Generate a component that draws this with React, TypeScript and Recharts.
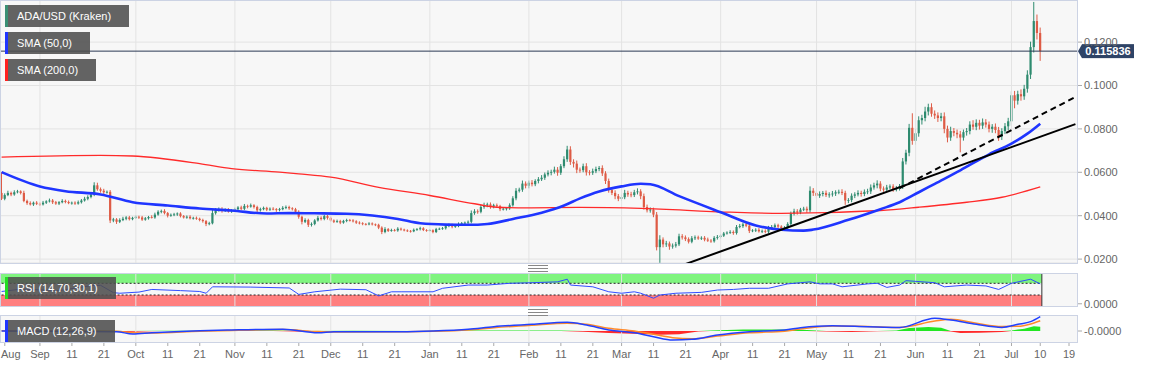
import React from 'react'
import {
  ComposedChart, Bar, Line, Area, XAxis, YAxis, CartesianGrid, ReferenceLine, ReferenceArea,
} from 'recharts'

// ADA/USD daily, 2019-08-20 .. 2020-07-10, prices in 1e-4 USD
const START = Date.UTC(2019, 7, 20)
const FIRST_OPEN = 505
const LAST_PRICE = 0.115836

const closeAug = [478, 495, 505, 498, 508, 512, 505, 468, 458, 452, 460, 455]
const closeSep = [452, 460, 466, 470, 462, 456, 462, 468, 463, 458, 460, 456, 462, 470, 478, 486, 498, 540, 522, 515, 508, 510, 378, 383, 372, 380, 386, 392, 384, 390]
const closeOct = [395, 392, 382, 388, 394, 392, 405, 418, 422, 412, 400, 404, 406, 410, 398, 392, 395, 388, 390, 386, 380, 375, 362, 365, 412, 425, 430, 422, 428, 420, 425]
const closeNov = [430, 438, 432, 445, 442, 448, 440, 425, 430, 436, 428, 432, 430, 426, 430, 436, 440, 434, 430, 418, 395, 372, 380, 358, 362, 378, 390, 385, 398, 390]
const closeDec = [378, 372, 375, 368, 376, 380, 378, 374, 368, 365, 362, 360, 364, 360, 358, 345, 325, 338, 330, 334, 332, 340, 336, 332, 330, 328, 335, 338, 342, 334, 332]
const closeJan = [333, 325, 338, 340, 342, 352, 358, 350, 352, 362, 365, 368, 372, 412, 420, 418, 440, 448, 452, 442, 448, 444, 430, 432, 434, 448, 480, 515, 520, 548, 538]
const closeFeb = [552, 545, 560, 568, 575, 590, 598, 602, 612, 598, 628, 660, 705, 648, 640, 612, 610, 628, 600, 598, 605, 615, 620, 595, 560, 518, 505, 490, 478]
const closeMar = [485, 505, 498, 495, 508, 512, 490, 440, 425, 428, 405, 255, 290, 268, 272, 258, 262, 268, 305, 300, 292, 280, 296, 300, 295, 298, 290, 285, 282, 298, 302]
const closeApr = [308, 318, 322, 325, 320, 348, 352, 360, 354, 330, 332, 335, 328, 330, 326, 345, 348, 356, 350, 340, 345, 362, 410, 420, 415, 428, 432, 425, 515, 505]
const closeMay = [492, 500, 505, 495, 498, 502, 508, 510, 505, 470, 472, 492, 498, 505, 500, 510, 512, 530, 540, 548, 525, 520, 530, 535, 522, 525, 535, 650, 690, 805, 745]
const closeJun = [780, 840, 850, 880, 900, 870, 862, 850, 858, 800, 760, 790, 782, 775, 760, 785, 790, 820, 810, 828, 815, 830, 820, 800, 810, 795, 765, 790, 812, 835]
const closeJul = [955, 930, 960, 950, 985, 1050, 1177, 1297, 1242, 1158.36]

// wick length above / below the body
const upAug = [95, 8, 10, 6, 9, 7, 5, 10, 6, 8, 5, 7]
const upSep = [6, 8, 5, 9, 7, 6, 5, 8, 6, 7, 5, 6, 8, 7, 9, 8, 10, 14, 12, 8, 9, 6, 8, 7, 6, 8, 9, 6, 7, 5]
const upOct = [6, 5, 7, 6, 5, 8, 9, 7, 6, 8, 5, 6, 7, 5, 6, 5, 6, 7, 5, 6, 5, 6, 5, 7, 15, 10, 8, 9, 6, 7, 5]
const upNov = [7, 6, 8, 9, 6, 8, 5, 6, 7, 6, 5, 6, 7, 5, 6, 8, 7, 6, 5, 6, 7, 5, 8, 6, 7, 6, 9, 7, 6, 5]
const upDec = [6, 5, 7, 6, 5, 6, 5, 6, 5, 6, 5, 4, 6, 5, 4, 5, 6, 9, 5, 6, 5, 7, 5, 4, 5, 4, 6, 5, 7, 5, 4]
const upJan = [5, 4, 6, 5, 6, 7, 6, 5, 6, 7, 6, 5, 6, 12, 10, 9, 10, 12, 8, 9, 7, 8, 6, 7, 6, 9, 10, 12, 9, 14, 10]
const upFeb = [10, 12, 8, 10, 12, 9, 11, 10, 14, 12, 10, 14, 17, 15, 12, 14, 10, 12, 14, 10, 12, 11, 9, 12, 10, 11, 9, 12, 10]
const upMar = [12, 14, 10, 12, 11, 14, 10, 12, 11, 10, 9, 12, 20, 10, 12, 9, 10, 11, 12, 10, 9, 8, 10, 9, 8, 7, 8, 9, 7, 8, 9]
const upApr = [6, 7, 6, 8, 7, 9, 10, 8, 9, 7, 6, 7, 8, 6, 7, 8, 9, 8, 7, 6, 7, 8, 9, 12, 10, 8, 9, 10, 20, 12]
const upMay = [10, 12, 9, 11, 10, 12, 9, 10, 12, 10, 9, 11, 10, 12, 10, 11, 12, 14, 12, 15, 11, 10, 12, 9, 10, 12, 11, 16, 14, 18, 67]
const upJun = [20, 18, 15, 22, 16, 18, 15, 14, 16, 18, 15, 20, 14, 15, 16, 12, 14, 15, 20, 16, 14, 18, 15, 14, 12, 15, 14, 13, 15, 16]
const upJul = [18, 20, 16, 22, 18, 20, 25, 88, 30, 25]

const dnAug = [6, 7, 5, 8, 6, 5, 7, 6, 8, 5, 7, 6]
const dnSep = [7, 5, 6, 5, 8, 6, 7, 5, 6, 5, 7, 6, 5, 6, 5, 7, 6, 8, 7, 9, 8, 6, 12, 8, 10, 6, 5, 7, 6, 5]
const dnOct = [5, 7, 6, 5, 6, 5, 6, 5, 7, 6, 8, 5, 6, 7, 6, 5, 6, 5, 6, 5, 6, 7, 10, 6, 5, 7, 6, 8, 5, 6, 7]
const dnNov = [6, 5, 7, 6, 8, 5, 7, 9, 6, 5, 7, 6, 5, 8, 6, 5, 6, 7, 6, 8, 9, 12, 6, 10, 8, 6, 5, 7, 6, 8]
const dnDec = [5, 6, 5, 7, 5, 6, 5, 5, 6, 5, 6, 5, 4, 5, 6, 7, 10, 6, 5, 4, 5, 6, 5, 4, 5, 6, 4, 5, 6, 5, 6]
const dnJan = [4, 6, 5, 4, 5, 6, 5, 8, 6, 5, 6, 5, 6, 7, 8, 9, 7, 8, 9, 10, 8, 7, 9, 6, 8, 7, 6, 9, 8, 10, 12]
const dnFeb = [12, 10, 9, 11, 8, 10, 9, 12, 8, 14, 10, 9, 12, 14, 18, 16, 12, 10, 15, 12, 10, 9, 10, 12, 14, 12, 10, 14, 11]
const dnMar = [10, 9, 11, 10, 9, 10, 14, 12, 10, 11, 12, 15, 72, 14, 12, 15, 10, 9, 8, 10, 9, 8, 7, 8, 6, 7, 8, 6, 7, 6, 8]
const dnApr = [7, 6, 5, 6, 8, 7, 6, 8, 7, 10, 6, 7, 6, 8, 7, 6, 7, 6, 8, 9, 7, 6, 8, 9, 10, 8, 7, 12, 10, 14]
const dnMay = [12, 10, 11, 9, 12, 10, 11, 9, 10, 20, 12, 10, 11, 9, 12, 10, 11, 12, 10, 14, 12, 10, 11, 9, 12, 10, 9, 12, 14, 16, 18]
const dnJun = [18, 16, 20, 15, 18, 14, 16, 18, 15, 20, 22, 15, 16, 18, 68, 14, 16, 15, 14, 16, 18, 15, 14, 16, 18, 15, 20, 16, 14, 18]
const dnJul = [20, 35, 18, 20, 16, 18, 20, 25, 30, 45]

// [day index, value]
const sma50Pts = [[0, 601], [12, 535], [20, 513], [31, 498], [41, 462], [52, 447], [62, 433], [72, 424], [83, 410], [90, 412], [98, 411], [108, 409], [116, 401], [124, 385], [131, 365], [139, 359], [146, 358], [152, 362], [160, 385], [169, 414], [176, 447], [181, 480], [187, 512], [194, 535], [200, 547], [203, 545], [212, 490], [225, 416], [236, 355], [244, 335], [251, 331], [254, 336], [265, 381], [275, 430], [281, 462], [287, 508], [292, 547], [300, 609], [309, 683], [316, 732], [321, 778], [325, 824]]
const sma200Pts = [[0, 670], [31, 678], [41, 675], [62, 640], [72, 617], [87, 601], [93, 593], [103, 578], [118, 531], [134, 493], [148, 455], [155, 439], [165, 436], [181, 438], [200, 434], [228, 416], [244, 411], [275, 424], [287, 439], [302, 462], [313, 485], [325, 533]]
const rsiPts = [[0, 42], [6, 50], [18, 45], [28, 62], [31, 63], [35, 38], [37, 36], [43, 40], [47, 49], [56, 45], [62, 42], [64, 36], [66, 58], [78, 57], [90, 54], [93, 32], [98, 41], [106, 50], [114, 48], [118, 27], [122, 41], [125, 41], [135, 41], [138, 53], [146, 64], [152, 64], [159, 70], [166, 72], [174, 75], [177, 84], [178, 64], [185, 58], [190, 41], [194, 36], [198, 41], [200, 36], [204, 19], [206, 30], [211, 36], [219, 39], [224, 47], [229, 49], [234, 53], [240, 53], [246, 68], [250, 72], [253, 75], [256, 68], [260, 68], [263, 58], [271, 68], [274, 70], [277, 56], [281, 64], [283, 79], [292, 72], [295, 58], [302, 64], [308, 61], [312, 49], [316, 70], [322, 84], [325, 68]]
// [day index, macd, signal] in 1e-4
const macdPts = [[0, 0, 0.3], [36, -0.6, -0.2], [41, -2.6, -1.5], [47, -1.5, -1.8], [62, 0.3, -0.2], [72, 0.9, 0.5], [88, 1.5, 1.2], [99, -1.5, -0.5], [104, -0.6, -0.8], [125, -0.6, -0.6], [135, 0, -0.3], [146, 1.5, 0.8], [154, 3.7, 2.8], [166, 5.7, 5], [177, 7.4, 6.6], [183, 5.1, 5.8], [190, 0.9, 2.3], [198, -1.5, 0], [204, -4.9, -2.8], [210, -7.7, -5.7], [216, -7.1, -6.6], [224, -3.4, -4.3], [234, -0.6, -1.5], [245, 0.9, -0.2], [250, 2.8, 1.7], [260, 4.5, 4.3], [271, 3.7, 3.9], [281, 3.1, 3.1], [292, 10.9, 8.5], [297, 9.4, 10], [305, 5.7, 6.6], [313, 3.1, 3.9], [318, 5.7, 4], [322, 8, 6], [325, 12.3, 8.8]]
const histPts = [[0, 0.3], [30, 0.5], [38, -0.8], [50, 0.3], [70, 0.3], [85, 0.4], [95, -0.6], [110, 0.2], [130, 0], [145, 0.5], [165, 0.4], [175, 0.4], [182, -0.6], [190, -1.8], [200, -2.5], [206, -3.2], [212, -2.8], [218, -0.5], [222, 0.5], [232, 1.2], [245, 1.3], [252, 0.8], [258, -0.4], [266, -0.8], [274, -0.3], [280, 0.5], [284, 2.5], [290, 3.5], [294, 2.8], [297, -0.5], [300, -1.6], [306, -1.5], [313, -0.8], [316, 0.5], [320, 2.0], [323, 4.0], [325, 3.6]]

const xTicks = [
  ['2019-08-21', 'Aug'], ['2019-09-01', 'Sep'], ['2019-09-11', '11'], ['2019-09-21', '21'],
  ['2019-10-01', 'Oct'], ['2019-10-11', '11'], ['2019-10-21', '21'], ['2019-11-01', 'Nov'],
  ['2019-11-11', '11'], ['2019-11-21', '21'], ['2019-12-01', 'Dec'], ['2019-12-11', '11'],
  ['2019-12-21', '21'], ['2020-01-01', 'Jan'], ['2020-01-11', '11'], ['2020-01-21', '21'],
  ['2020-02-01', 'Feb'], ['2020-02-11', '11'], ['2020-02-21', '21'], ['2020-03-01', 'Mar'],
  ['2020-03-11', '11'], ['2020-03-21', '21'], ['2020-04-01', 'Apr'], ['2020-04-11', '11'],
  ['2020-04-21', '21'], ['2020-05-01', 'May'], ['2020-05-11', '11'], ['2020-05-21', '21'],
  ['2020-06-01', 'Jun'], ['2020-06-11', '11'], ['2020-06-21', '21'], ['2020-07-01', 'Jul'],
  ['2020-07-10', '10'], ['2020-07-19', '19'],
]
const priceTicks = [0.02, 0.04, 0.06, 0.08, 0.1, 0.12]

const DAYS = 337
const GREEN = '#2e8b6f'
const RED = '#de5b45'
const TAG = '#2e4366'

const closes = [...closeAug, ...closeSep, ...closeOct, ...closeNov, ...closeDec, ...closeJan, ...closeFeb, ...closeMar, ...closeApr, ...closeMay, ...closeJun, ...closeJul]
const wickUp = [...upAug, ...upSep, ...upOct, ...upNov, ...upDec, ...upJan, ...upFeb, ...upMar, ...upApr, ...upMay, ...upJun, ...upJul]
const wickDn = [...dnAug, ...dnSep, ...dnOct, ...dnNov, ...dnDec, ...dnJan, ...dnFeb, ...dnMar, ...dnApr, ...dnMay, ...dnJun, ...dnJul]

const rows: any[] = Array.from({ length: DAYS }, (_, i) => ({ i }))
closes.forEach((c, i) => {
  const o = i === 0 ? FIRST_OPEN : closes[i - 1]
  rows[i].o = o / 1e4
  rows[i].c = c / 1e4
  rows[i].h = (Math.max(o, c) + wickUp[i]) / 1e4
  rows[i].l = (Math.min(o, c) - wickDn[i]) / 1e4
})
sma50Pts.forEach(([i, v]) => { rows[i].sma50 = v / 1e4 })
sma200Pts.forEach(([i, v]) => { rows[i].sma200 = v / 1e4 })
rsiPts.forEach(([i, v]) => { rows[i].rsi = v })
macdPts.forEach(([i, m, s]) => { rows[i].macd = m; rows[i].sig = s })
histPts.forEach(([i, v]) => { rows[i].hp = Math.max(v, 0); rows[i].hn = Math.min(v, 0) })

const dayOf = (d: string) => Math.round((Date.parse(d) - START) / 864e5)
const tickIdx = xTicks.map(t => dayOf(t[0]))
const tickLabel = new Map(xTicks.map(t => [dayOf(t[0]), t[1]]))
const monthIdx = xTicks.filter((t, k) => k > 0 && isNaN(Number(t[1]))).map(t => dayOf(t[0]))
const lastIdx = closes.length - 1

function Candle(props: any) {
  const { x, y, width, height, payload } = props
  if (!payload || payload.c == null) return null
  const { o, c, h, l } = payload
  const top = Math.min(y, y + height)
  const bot = Math.max(y, y + height)
  const k = (bot - top) / (h - l || 1)
  const py = (v: number) => top + (h - v) * k
  const color = c >= o ? GREEN : RED
  const cx = x + width / 2
  const bt = py(Math.max(o, c))
  const bb = py(Math.min(o, c))
  return (
    <g>
      <line x1={cx} x2={cx} y1={top} y2={bot} stroke={color} strokeWidth={1} />
      <rect x={cx - 1.1} y={bt} width={2.2} height={Math.max(bb - bt, 0.8)} fill={color} />
    </g>
  )
}

function PriceTag(props: any) {
  const vb = props.viewBox
  if (!vb) return null
  const x = vb.x + vb.width
  const y = vb.y
  return (
    <g>
      <polygon points={`${x + 1},${y} ${x + 5},${y - 7} ${x + 5},${y + 7}`} fill={TAG} />
      <rect x={x + 5} y={y - 7} width={52} height={14} fill={TAG} />
      <text x={x + 31} y={y} dy="0.35em" textAnchor="middle" fill="#fff" fontSize={11} fontWeight="bold">
        {LAST_PRICE.toFixed(6)}
      </text>
    </g>
  )
}

function DateTick({ x, y, payload }: any) {
  const first = payload.value === tickIdx[0]
  return (
    <text x={first ? 1 : x} y={y} dy="0.71em" textAnchor={first ? 'start' : 'middle'} fontSize={11} fill="#666">
      {tickLabel.get(payload.value)}
    </text>
  )
}

const axisTick = { fontSize: 11, fill: '#666' }
const gridLines = (pre: string) => monthIdx.map(i => (
  <ReferenceLine key={pre + i} x={i} stroke="#e3e3e3" strokeWidth={1} />
))

function Tag({ top, w, color, text }: { top: number; w: number; color: string; text: string }) {
  return (
    <div style={{
      position: 'absolute', left: 5, top, width: w, height: 22, background: 'rgba(78,78,78,0.88)',
      color: '#fff', fontSize: 11, lineHeight: '22px', paddingLeft: 12, boxSizing: 'border-box',
    }}>
      <div style={{ position: 'absolute', left: 0, top: 0, width: 3, height: 22, background: color }} />
      {text}
    </div>
  )
}

function Handle({ top }: { top: number }) {
  return (
    <div style={{ position: 'absolute', left: 528, top, width: 20, height: 5, borderTop: '1px solid #888', borderBottom: '1px solid #888' }}>
      <div style={{ marginTop: 2, height: 1, background: '#888' }} />
    </div>
  )
}

const panel = (top: number, height: number): React.CSSProperties => ({
  position: 'absolute', left: 0, top, width: 1077, height, background: '#f7f7f7',
})
const frame = (top: number, height: number): React.CSSProperties => ({
  position: 'absolute', left: 0, top, width: 1078, height: height + 1, border: '1px solid #ccd3e4',
  boxSizing: 'border-box', pointerEvents: 'none',
})
const noDots = { dot: false, activeDot: false } as const

export default function App() {
  return (
    <div style={{
      position: 'absolute', left: 0, top: 0, width: 1153, height: 367, background: '#fff', overflow: 'hidden',
      fontFamily: 'Arial, "Liberation Sans", sans-serif',
    }}>
      <div style={panel(0, 263)} />
      <div style={panel(273, 33)} />
      <div style={panel(315, 27)} />

      {/* price */}
      <div style={{ position: 'absolute', left: 0, top: 0 }}>
        <ComposedChart width={1153} height={270} data={rows} margin={{ top: 0, right: 0, bottom: 7, left: 0 }}>
          <XAxis dataKey="i" hide scale="band" />
          <YAxis orientation="right" width={76} domain={[0.0182, 0.1394]} allowDataOverflow ticks={priceTicks} interval={0}
            tickFormatter={(v: number) => v.toFixed(4)} tick={axisTick} tickSize={5}
            tickLine={{ stroke: '#aaa' }} axisLine={false} />
          <CartesianGrid vertical={false} stroke="#e3e3e3" />
          {gridLines('m')}
          <Bar dataKey={(d: any) => (d.c == null ? null : [d.l, d.h])} shape={Candle} barSize={3} isAnimationActive={false} />
          <Line dataKey="sma200" stroke="#ff2a2a" strokeWidth={1.3} {...noDots} connectNulls type="monotone" isAnimationActive={false} />
          <Line dataKey="sma50" stroke="#1f35ff" strokeWidth={2.6} {...noDots} connectNulls type="monotone" isAnimationActive={false} />
          <ReferenceLine segment={[{ x: 212, y: 0.01665 }, { x: 336, y: 0.0822 }]} stroke="#000" strokeWidth={2} ifOverflow="hidden" />
          <ReferenceLine segment={[{ x: 281, y: 0.0527 }, { x: 336, y: 0.0947 }]} stroke="#000" strokeWidth={2} strokeDasharray="6 4" ifOverflow="hidden" />
          <ReferenceLine y={LAST_PRICE} stroke="#2b3a55" strokeWidth={1} label={(p: any) => <PriceTag {...p} />} />
        </ComposedChart>
      </div>

      {/* RSI */}
      <div style={{ position: 'absolute', left: 0, top: 273 }}>
        <ComposedChart width={1153} height={41} data={rows} margin={{ top: 0, right: 0, bottom: 8, left: 0 }}>
          <XAxis dataKey="i" hide scale="band" />
          <YAxis orientation="right" width={76} domain={[-7.6, 105.2]} allowDataOverflow ticks={[0]} interval={0}
            tickFormatter={() => '0.0000'} tick={axisTick} tickSize={5} tickLine={{ stroke: '#aaa' }} axisLine={false} />
          {gridLines('r')}
          <ReferenceArea x1={0} x2={lastIdx} y1={70} y2={105.2} fill="#7ff47f" fillOpacity={1} stroke="none" ifOverflow="visible" />
          <ReferenceArea x1={0} x2={lastIdx} y1={-7.6} y2={30} fill="#ff7f7f" fillOpacity={1} stroke="none" ifOverflow="visible" />
          <ReferenceLine segment={[{ x: 0, y: 70 }, { x: lastIdx, y: 70 }]} stroke="#222" strokeDasharray="2 2" />
          <ReferenceLine segment={[{ x: 0, y: 30 }, { x: lastIdx, y: 30 }]} stroke="#222" strokeDasharray="2 2" />
          <ReferenceLine x={lastIdx} position="end" stroke="#333" strokeWidth={1} />
          <Line dataKey="rsi" stroke="#2f4cff" strokeWidth={1} {...noDots} connectNulls type="linear" isAnimationActive={false} />
        </ComposedChart>
      </div>

      {/* MACD */}
      <div style={{ position: 'absolute', left: 0, top: 315 }}>
        <ComposedChart width={1153} height={52} data={rows} margin={{ top: 0, right: 0, bottom: 0, left: 0 }}>
          <XAxis dataKey="i" scale="band" ticks={tickIdx} interval={0} height={25} tickSize={4} tickMargin={4}
            tickLine={{ stroke: '#aaa' }} axisLine={false} tick={(p: any) => <DateTick {...p} />} />
          <YAxis orientation="right" width={76} domain={[-9.4, 13.7]} allowDataOverflow ticks={[0]} interval={0}
            tickFormatter={() => '-0.0000'} tick={axisTick} tickSize={5} tickLine={{ stroke: '#aaa' }} axisLine={false} />
          {gridLines('d')}
          <Area dataKey="hp" fill="#22e622" fillOpacity={1} stroke="none" {...noDots} connectNulls type="linear" baseValue={0} isAnimationActive={false} />
          <Area dataKey="hn" fill="#ff2a2a" fillOpacity={1} stroke="none" {...noDots} connectNulls type="linear" baseValue={0} isAnimationActive={false} />
          <Line dataKey="sig" stroke="#ff8a2a" strokeWidth={1.5} {...noDots} connectNulls type="monotone" isAnimationActive={false} />
          <Line dataKey="macd" stroke="#2140ff" strokeWidth={1.5} {...noDots} connectNulls type="monotone" isAnimationActive={false} />
        </ComposedChart>
      </div>

      <div style={frame(0, 263)} />
      <div style={frame(273, 33)} />
      <div style={frame(315, 27)} />

      <Handle top={265} />
      <Handle top={309} />

      <Tag top={5} w={124} color="#3a8f74" text="ADA/USD (Kraken)" />
      <Tag top={32} w={85} color="#1f35ff" text="SMA (50,0)" />
      <Tag top={59} w={91} color="#ff2020" text="SMA (200,0)" />
      <Tag top={277} w={111} color="#22dd22" text="RSI (14,70,30,1)" />
      <Tag top={320} w={110} color="#1f35ff" text="MACD (12,26,9)" />
    </div>
  )
}
